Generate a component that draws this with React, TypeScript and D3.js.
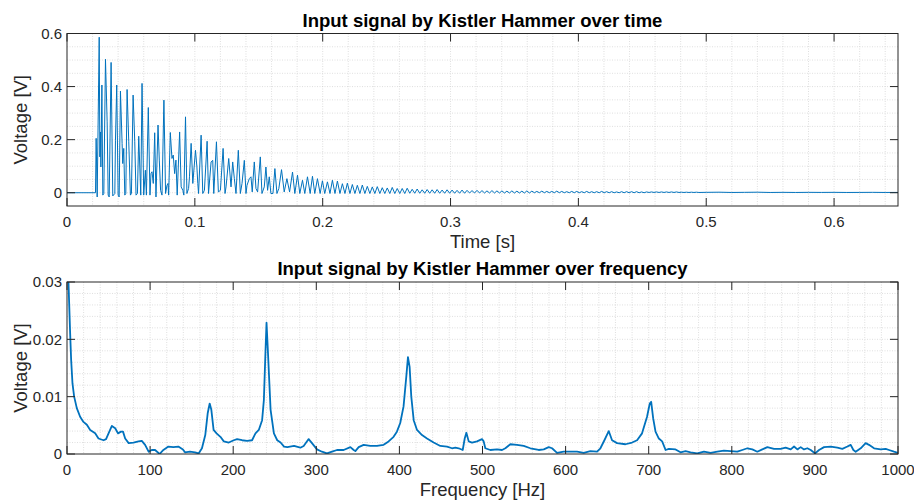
import React from 'react';
import * as d3 from 'd3';

// ---------- tick values / labels ----------
const timeTicks = [0, 0.1, 0.2, 0.3, 0.4, 0.5, 0.6];
const timeTickLabels = ['0', '0.1', '0.2', '0.3', '0.4', '0.5', '0.6'];
const timeVoltTicks = [0, 0.2, 0.4, 0.6];
const timeVoltTickLabels = ['0', '0.2', '0.4', '0.6'];
const freqTicks = [0, 100, 200, 300, 400, 500, 600, 700, 800, 900, 1000];
const freqTickLabels = ['0', '100', '200', '300', '400', '500', '600', '700', '800', '900', '1000'];
const freqVoltTicks = [0, 0.01, 0.02, 0.03];
const freqVoltTickLabels = ['0', '0.01', '0.02', '0.03'];

// ---------- time signal [t (s), V] ----------
const impactSegment: [number, number][] = [
  [0, 0], [0.0223, 0], [0.0228, 0.205], [0.0236, -0.016], [0.0252, 0.586], [0.0257, 0.135], [0.0262, 0.229],
  [0.0265, 0.097], [0.0273, 0.406], [0.028, -0.009], [0.0288, -0.003], [0.0301, 0.503], [0.0314, 0.267],
  [0.0322, -0.009], [0.033, -0.016], [0.0345, 0.491], [0.0358, -0.012], [0.0374, -0.003], [0.0379, 0.198],
  [0.0389, 0.406], [0.04, -0.009], [0.0408, -0.016], [0.0418, 0.383], [0.0431, 0.186], [0.0436, 0.11],
  [0.0444, 0.167], [0.0452, -0.009], [0.046, -0.003], [0.047, 0.389], [0.0483, 0.192], [0.0496, -0.009],
  [0.0504, -0.003], [0.0517, 0.368], [0.053, 0.192], [0.054, -0.009], [0.0551, -0.003], [0.0561, 0.213],
  [0.0577, -0.009], [0.0587, 0.412], [0.06, -0.009], [0.0613, 0.085], [0.0621, -0.009], [0.0636, 0.321],
  [0.0649, -0.009], [0.0657, 0.072], [0.0665, 0.079], [0.0675, 0.035], [0.0686, 0.226], [0.0696, -0.016],
  [0.0712, 0.255], [0.0722, 0.123], [0.0732, 0.009], [0.0743, -0.009], [0.0758, 0.349], [0.0771, -0.003],
  [0.0782, 0.028], [0.079, 0.035], [0.0795, -0.009], [0.0808, 0.227], [0.0821, 0.129], [0.0831, 0.142],
  [0.0842, 0.072], [0.0852, 0.123], [0.0862, -0.009], [0.0881, 0.229], [0.0893, 0.022], [0.0906, 0.009],
  [0.0914, -0.009], [0.0927, 0.286], [0.0938, -0.003], [0.0951, 0.016], [0.0958, 0.06], [0.0971, 0.186],
  [0.0984, 0.035], [0.1005, 0.16], [0.1016, 0.097], [0.1023, 0.035], [0.1029, -0.003], [0.1049, 0.217],
  [0.1062, -0.003], [0.1075, 0.009], [0.1096, 0.194], [0.1107, -0.003],
];
const decaySegment: [number, number][] = [
  [0.1127, 0.116], [0.114, 0.122], [0.1148, -0.003], [0.1169, 0.192], [0.1184, 0.003], [0.12, 0.009],
  [0.1221, 0.167], [0.1236, -0.003], [0.1244, 0.022], [0.1265, 0.129], [0.1283, 0.022], [0.1296, 0.116],
  [0.1309, 0.053], [0.1322, -0.003], [0.134, 0.16], [0.1356, -0.003], [0.1369, 0.035], [0.1387, 0.122],
  [0.14, -0.003], [0.1408, 0.028], [0.1426, 0.053], [0.1439, 0.06], [0.1449, 0.003], [0.1465, 0.116],
  [0.1478, 0.016], [0.1491, 0.003], [0.1512, 0.135], [0.1525, -0.003], [0.1543, 0.022], [0.1556, 0.097],
  [0.1569, 0.009], [0.1582, 0.06], [0.1595, -0.003], [0.1611, -0.003], [0.1626, 0.091], [0.1642, -0.003],
  [0.1657, 0.016], [0.1678, 0.087], [0.1699, 0.003], [0.172, 0.053], [0.1741, 0.003], [0.1764, 0.078],
  [0.1782, -0.003], [0.1803, 0.066], [0.1821, -0.003], [0.1842, 0.047], [0.186, -0.003], [0.1881, 0.06],
  [0.1902, -0.003], [0.192, 0.062], [0.1938, -0.003], [0.1959, 0.053], [0.198, -0.003], [0.1998, 0.045],
  [0.2016, -0.003],
];
const ringTailA: [number, number][] = [
  [0.2037, 0.041], [0.2057, -0.003], [0.2076, 0.047], [0.2096, -0.003], [0.2115, 0.044], [0.2135, -0.003],
  [0.2154, 0.034], [0.2174, -0.003], [0.2193, 0.036], [0.2213, -0.003], [0.2232, 0.031], [0.2252, -0.003],
  [0.2271, 0.028], [0.2291, -0.003], [0.231, 0.029], [0.233, -0.003], [0.2349, 0.024], [0.2369, -0.003],
  [0.2388, 0.022], [0.2408, -0.003], [0.2427, 0.023], [0.2447, -0.003], [0.2466, 0.019], [0.2486, -0.003],
  [0.2505, 0.018], [0.2525, -0.003], [0.2544, 0.02], [0.2564, -0.003], [0.2583, 0.016], [0.2603, -0.003],
  [0.2622, 0.016], [0.2642, -0.003], [0.2661, 0.017], [0.2681, -0.002], [0.27, 0.013], [0.272, -0.002],
  [0.2739, 0.014], [0.2759, -0.002], [0.2778, 0.011], [0.2798, -0.002], [0.2817, 0.012], [0.2837, -0.002],
];
const ringTailB: [number, number][] = [
  [0.2856, 0.011], [0.2876, -0.002], [0.2895, 0.012], [0.2915, -0.002], [0.2934, 0.01], [0.2954, -0.002],
  [0.2973, 0.011], [0.2993, -0.002], [0.3012, 0.01], [0.3032, -0.002], [0.3051, 0.009], [0.3071, -0.002],
  [0.309, 0.01], [0.311, -0.002], [0.3129, 0.009], [0.3149, -0.001], [0.3168, 0.008], [0.3188, -0.001],
  [0.3207, 0.009], [0.3227, -0.001], [0.3246, 0.008], [0.3266, -0.001], [0.3285, 0.007], [0.3305, -0.001],
  [0.3324, 0.008], [0.3344, -0.001], [0.3363, 0.007], [0.3383, -0.001], [0.3402, 0.007], [0.3422, -0.001],
  [0.3441, 0.006], [0.3461, -0.001], [0.348, 0.007], [0.35, -0.001], [0.3519, 0.006], [0.3539, -0.001],
  [0.3558, 0.006], [0.3578, -0.001], [0.3597, 0.007], [0.3617, -0.001], [0.3636, 0.006], [0.3656, 0],
  [0.3675, 0.005], [0.3695, 0], [0.3714, 0.006], [0.3734, 0], [0.3753, 0.005], [0.3773, 0],
  [0.3792, 0.005], [0.3812, 0], [0.3831, 0.006], [0.3851, 0], [0.387, 0.005], [0.389, 0],
  [0.3909, 0.004], [0.3929, 0], [0.3948, 0.005], [0.3968, 0], [0.3987, 0.005], [0.4007, 0],
  [0.4026, 0.004], [0.4046, 0], [0.4065, 0.005], [0.4085, 0], [0.4104, 0.004], [0.4124, 0],
  [0.4143, 0.004], [0.4163, 0], [0.4182, 0.005], [0.4202, 0], [0.4221, 0.004], [0.4241, 0],
  [0.426, 0.004], [0.428, 0], [0.4299, 0.003], [0.4319, 0], [0.4338, 0.004], [0.4358, 0],
  [0.4377, 0.004], [0.4397, 0],
];
const ringTailC: [number, number][] = [
  [0.4416, 0.004], [0.4436, 0], [0.4455, 0.004], [0.4475, 0], [0.4494, 0.003], [0.4514, 0],
  [0.4533, 0.003], [0.4553, 0.001], [0.4572, 0.003], [0.4592, 0.001], [0.4611, 0.003], [0.4631, 0.001],
  [0.465, 0.003], [0.467, 0.001], [0.4689, 0.003], [0.4709, 0.001], [0.4728, 0.003], [0.4748, 0.001],
  [0.4767, 0.003], [0.4787, 0.001], [0.4806, 0.002], [0.4826, 0.001], [0.4845, 0.002], [0.4865, 0.001],
  [0.4884, 0.002], [0.4904, 0.001], [0.4923, 0.002], [0.4943, 0.001], [0.5, 0.0015], [0.51, 0.002],
  [0.52, 0.001], [0.53, 0.0015], [0.54, 0.002], [0.55, 0.001], [0.56, 0.0015], [0.57, 0.001],
  [0.58, 0.0015], [0.59, 0.0012], [0.6, 0.0015], [0.61, 0.001], [0.62, 0.0012], [0.63, 0.0015],
  [0.64, 0.001], [0.65, 0.0012],
];

// ---------- spectrum [f (Hz), V] ----------
const spectrumLow: [number, number][] = [
  [0, 0.034], [1.8, 0.0298], [3.8, 0.021], [5, 0.0164], [6.6, 0.0123], [8.6, 0.01], [11.8, 0.008],
  [15.8, 0.0065], [19.8, 0.0056], [23.9, 0.0051], [27.9, 0.0042], [33.9, 0.0036], [37.9, 0.0027],
  [44, 0.0024], [47, 0.0026], [50, 0.0036], [54, 0.0049], [58, 0.0045], [61.4, 0.0036], [65, 0.0039],
  [67.4, 0.0039], [70, 0.0027], [74.2, 0.0019], [80, 0.002], [86, 0.0022], [90, 0.0023], [94, 0.0016],
  [98.2, 0.0004], [102, 0.0007], [106, 0.0007], [111.4, 0], [116, 0.0007], [122, 0.0013], [128, 0.0012],
  [134, 0.0013], [139.5, 0.0008], [142, 0.0003], [148, 0.0004], [154, 0.0003], [158.4, 0.0001],
  [162.4, 0.001], [166.4, 0.0033], [169.3, 0.0071], [171.7, 0.0088], [173.7, 0.0077], [176.4, 0.0042],
  [180, 0.0036], [184.6, 0.003], [188.7, 0.0022], [194.7, 0.002], [200.7, 0.0024], [204.7, 0.0026],
  [210.7, 0.0024], [216.7, 0.0023], [222.7, 0.0024], [226.8, 0.0036], [230.8, 0.0042], [234.8, 0.0059],
  [236.9, 0.0094], [238.9, 0.0181], [240.1, 0.0229], [241.7, 0.0181], [245, 0.0077], [249, 0.0036],
  [253, 0.0024], [257, 0.002], [261.2, 0.0013], [265.2, 0.0012], [273.2, 0.0014], [280.8, 0.0011],
  [284.8, 0.0014], [290.8, 0.0026], [294.8, 0.0019],
];
const spectrumMid: [number, number][] = [
  [300.8, 0.0008], [306.8, 0.0004], [312.8, 0.0001], [318.9, 0.0004], [324.9, 0.0007], [332.9, 0.0007],
  [341, 0.0012], [345, 0.0007], [347, 0.0005], [351, 0.0012], [357, 0.0016], [365, 0.0014], [373, 0.0014],
  [381, 0.0016], [387, 0.0022], [393, 0.003], [397, 0.0039], [401, 0.0054], [405, 0.0083], [408.3, 0.0135],
  [410.3, 0.0169], [412.3, 0.0152], [414.3, 0.01], [417.2, 0.0059], [421.2, 0.0042], [427.2, 0.0033],
  [433.2, 0.0027], [441.2, 0.002], [449.3, 0.0014], [457.3, 0.0013], [463.3, 0.001], [467.3, 0.0011],
  [471.3, 0.001], [476.2, 0.0007], [478.6, 0.0027], [480.6, 0.0037], [483.4, 0.0022], [487.4, 0.002],
  [493.4, 0.0022], [499.4, 0.0026], [501.4, 0.0022], [503.4, 0.001], [509.4, 0.0007], [517.5, 0.0008],
  [523.5, 0.0007], [527.5, 0.001], [533.5, 0.0017], [541.5, 0.0016], [549.6, 0.0014], [557.6, 0.001],
  [567.6, 0.0007], [573.7, 0.0008], [579.7, 0.0012], [583.7, 0.001], [589.7, 0.0002], [597.7, 0.0004],
  [605.8, 0.0004], [613.8, 0.0004], [621.8, 0.0002], [629.8, 0.0005], [637.9, 0.0004], [641.9, 0.001],
  [646.7, 0.0024], [651.9, 0.004], [655.9, 0.0024], [661.9, 0.0019],
];
const spectrumHigh: [number, number][] = [
  [672, 0.0017], [680, 0.002], [686, 0.0024], [692, 0.0036], [698, 0.0065], [701.3, 0.0088], [703, 0.0091],
  [705.4, 0.0062], [708.2, 0.0039], [712.2, 0.0027], [716.2, 0.0022], [720.3, 0.0007], [724.3, 0.0009],
  [732.3, 0.0008], [738.3, 0.0003], [744.4, 0.0005], [750.4, 0.0003], [758.4, 0.0001], [766.5, 0.0004],
  [774.5, 0.0002], [782.5, 0.0004], [790.5, 0.0006], [798.6, 0.0005], [806.6, 0.0004], [812.6, 0.0007],
  [818.7, 0.001], [824.7, 0.0008], [830.7, 0.0004], [836.7, 0.0008], [842.8, 0.0012], [850.8, 0.0009],
  [858.8, 0.0009], [864.8, 0.0011], [870.9, 0.0008], [874.9, 0.0013], [878.9, 0.0008], [882.9, 0.0012],
  [886.9, 0.0008], [890.9, 0.001], [895, 0.0007], [900.2, 0.0001], [905, 0.0007], [911, 0.0012],
  [919, 0.0013], [927, 0.0011], [933, 0.0009], [939.1, 0.0013], [943.1, 0.0016], [946.3, 0.0007],
  [949.1, 0.0004], [955.1, 0.001], [961.1, 0.0019], [965.1, 0.0016], [971.2, 0.001], [979.2, 0.0008],
  [985.2, 0.0009], [989.2, 0.0007], [995.2, 0.0004], [1000, 0.0002],
];

const timeSignal = [...impactSegment, ...decaySegment, ...ringTailA, ...ringTailB, ...ringTailC];
const spectrum = [...spectrumLow, ...spectrumMid, ...spectrumHigh];

const FONT = '"Liberation Sans", Arial, Helvetica, sans-serif';
const AXIS_COLOR = '#262626';
const LINE_COLOR = '#0072BD';

type PanelProps = {
  id: string;
  x0: number; x1: number; y0: number; y1: number;
  xDomain: [number, number]; yDomain: [number, number];
  xTicks: number[]; xLabels: string[];
  yTicks: number[]; yLabels: string[];
  xMinorStep: number; yMinorStep: number;
  data: [number, number][];
  title: string; xLabel: string; yLabel: string;
  strokeWidth: number;
};

function Panel(p: PanelProps) {
  const x = d3.scaleLinear().domain(p.xDomain).range([p.x0, p.x1]);
  const y = d3.scaleLinear().domain(p.yDomain).range([p.y1, p.y0]);
  const line = d3.line<[number, number]>().x(d => x(d[0])).y(d => y(d[1]));
  const eps = 1e-9;
  const xGrid = d3.range(p.xDomain[0], p.xDomain[1] + eps, p.xMinorStep).filter(v => v > p.xDomain[0] + eps && v < p.xDomain[1] - eps);
  const yGrid = d3.range(Math.ceil(p.yDomain[0] / p.yMinorStep) * p.yMinorStep, p.yDomain[1] + eps, p.yMinorStep).filter(v => v > p.yDomain[0] + eps && v < p.yDomain[1] - eps);
  const tickLen = 8;
  return (
    <g>
      <defs>
        <clipPath id={p.id}>
          <rect x={p.x0} y={p.y0} width={p.x1 - p.x0} height={p.y1 - p.y0} />
        </clipPath>
      </defs>
      <rect x={p.x0} y={p.y0} width={p.x1 - p.x0} height={p.y1 - p.y0} fill="#fff" />
      {xGrid.map((v, i) => (
        <line key={'gx' + i} x1={x(v)} x2={x(v)} y1={p.y0} y2={p.y1} stroke="#c9c9c9" strokeWidth={0.6} strokeDasharray="1 1.5" />
      ))}
      {yGrid.map((v, i) => (
        <line key={'gy' + i} x1={p.x0} x2={p.x1} y1={y(v)} y2={y(v)} stroke="#c9c9c9" strokeWidth={0.6} strokeDasharray="1 1.5" />
      ))}
      <path d={line(p.data) || ''} fill="none" stroke={LINE_COLOR} strokeWidth={p.strokeWidth} strokeLinejoin="round" clipPath={`url(#${p.id})`} />
      {/* box */}
      <rect x={p.x0} y={p.y0} width={p.x1 - p.x0} height={p.y1 - p.y0} fill="none" stroke={AXIS_COLOR} strokeWidth={1} />
      {/* x ticks */}
      {p.xTicks.map((v, i) => (
        <g key={'xt' + i}>
          <line x1={x(v)} x2={x(v)} y1={p.y1} y2={p.y1 - tickLen} stroke={AXIS_COLOR} strokeWidth={1} />
          <line x1={x(v)} x2={x(v)} y1={p.y0} y2={p.y0 + tickLen} stroke={AXIS_COLOR} strokeWidth={1} />
          <text x={x(v)} y={p.y1 + 21} textAnchor="middle" fontSize={15} fill={AXIS_COLOR} fontFamily={FONT}>{p.xLabels[i]}</text>
        </g>
      ))}
      {/* y ticks */}
      {p.yTicks.map((v, i) => (
        <g key={'yt' + i}>
          <line x1={p.x0} x2={p.x0 + tickLen} y1={y(v)} y2={y(v)} stroke={AXIS_COLOR} strokeWidth={1} />
          <line x1={p.x1} x2={p.x1 - tickLen} y1={y(v)} y2={y(v)} stroke={AXIS_COLOR} strokeWidth={1} />
          <text x={p.x0 - 5} y={y(v)} dy="0.36em" textAnchor="end" fontSize={15} fill={AXIS_COLOR} fontFamily={FONT}>{p.yLabels[i]}</text>
        </g>
      ))}
      <text x={(p.x0 + p.x1) / 2} y={p.y0 - 7} textAnchor="middle" fontSize={18.5} fontWeight="bold" fill="#000" fontFamily={FONT}>{p.title}</text>
      <text x={(p.x0 + p.x1) / 2} y={p.y1 + 42} textAnchor="middle" fontSize={18.5} fill={AXIS_COLOR} fontFamily={FONT}>{p.xLabel}</text>
      <text transform={`translate(26.5, ${(p.y0 + p.y1) / 2}) rotate(-90)`} textAnchor="middle" fontSize={18.5} fill={AXIS_COLOR} fontFamily={FONT}>{p.yLabel}</text>
    </g>
  );
}

export default function App() {
  return (
    <svg width={914} height={500} style={{ position: 'absolute', left: 0, top: 0, background: '#fff' }}>
      <rect x={0} y={0} width={914} height={500} fill="#fff" />
      <Panel
        id="clipTime"
        x0={67} x1={898} y0={33.5} y1={206}
        xDomain={[0, 0.65]} yDomain={[-0.05, 0.6]}
        xTicks={timeTicks} xLabels={timeTickLabels}
        yTicks={timeVoltTicks} yLabels={timeVoltTickLabels}
        xMinorStep={0.02} yMinorStep={0.05}
        data={timeSignal}
        title="Input signal by Kistler Hammer over time"
        xLabel="Time [s]" yLabel="Voltage [V]"
        strokeWidth={1}
      />
      <Panel
        id="clipFreq"
        x0={67} x1={898} y0={282} y1={454}
        xDomain={[0, 1000]} yDomain={[0, 0.03]}
        xTicks={freqTicks} xLabels={freqTickLabels}
        yTicks={freqVoltTicks} yLabels={freqVoltTickLabels}
        xMinorStep={20} yMinorStep={0.002}
        data={spectrum}
        title="Input signal by Kistler Hammer over frequency"
        xLabel="Frequency [Hz]" yLabel="Voltage [V]"
        strokeWidth={1.8}
      />
    </svg>
  );
}
